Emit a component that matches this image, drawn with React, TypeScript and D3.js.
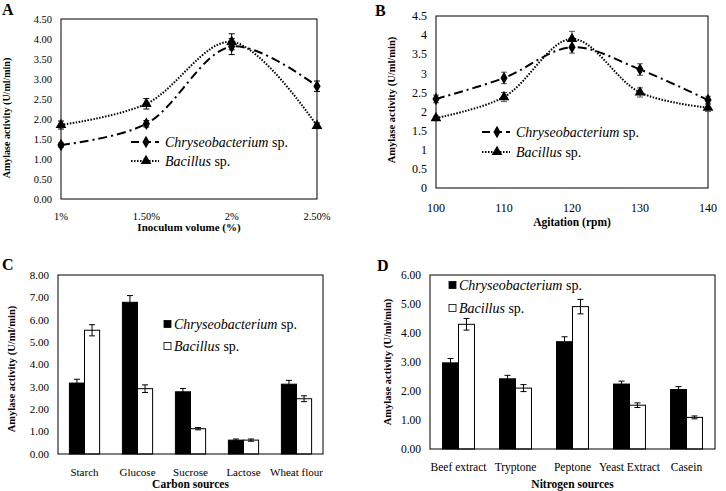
import React from 'react';
import * as d3 from 'd3';

// panel A - inoculum volume
const inoculum = ['1%', '1.50%', '2%', '2.50%'];
const inocChryseo = [1.35, 1.88, 3.81, 2.82];
const inocChryseoErr = [0.05, 0.08, 0.2, 0.13];
const inocBacillus = [1.85, 2.38, 3.93, 1.83];
const inocBacillusErr = [0.1, 0.13, 0.2, 0.07];
const inocTicks = [0, 0.5, 1, 1.5, 2, 2.5, 3, 3.5, 4, 4.5];

// panel B - agitation
const agitation = [100, 110, 120, 130, 140];
const agiChryseo = [2.33, 2.88, 3.68, 3.1, 2.3];
const agiChryseoErr = [0.1, 0.15, 0.15, 0.15, 0.1];
const agiBacillus = [1.83, 2.38, 3.9, 2.5, 2.1];
const agiBacillusErr = [0.05, 0.12, 0.2, 0.12, 0.1];
const agiTicks = [0, 0.5, 1, 1.5, 2, 2.5, 3, 3.5, 4, 4.5];

// panel C - carbon sources
const carbon = ['Starch', 'Glucose', 'Sucrose', 'Lactose', 'Wheat flour'];
const carbChryseo = [3.17, 6.78, 2.78, 0.62, 3.12];
const carbChryseoErr = [0.17, 0.3, 0.15, 0.05, 0.17];
const carbBacillus = [5.53, 2.92, 1.13, 0.62, 2.47];
const carbBacillusErr = [0.25, 0.17, 0.05, 0.05, 0.13];
const carbTicks = [0, 1, 2, 3, 4, 5, 6, 7, 8];

// panel D - nitrogen sources
const nitrogen = ['Beef extract', 'Tryptone', 'Peptone', 'Yeast Extract', 'Casein'];
const nitChryseo = [2.97, 2.42, 3.7, 2.24, 2.05];
const nitChryseoErr = [0.15, 0.12, 0.17, 0.1, 0.1];
const nitBacillus = [4.3, 2.1, 4.91, 1.51, 1.09];
const nitBacillusErr = [0.2, 0.12, 0.25, 0.08, 0.05];
const nitTicks = [0, 1, 2, 3, 4, 5, 6];

const serif = '"Liberation Serif", "Times New Roman", serif';

type Box = { left: number; right: number; top: number; bottom: number };

function YTitle({ x, y, size }: { x: number; y: number; size: number }) {
  return (
    <text transform={`translate(${x},${y}) rotate(-90)`} textAnchor="middle"
      fontWeight="bold" fontSize={size} fontFamily={serif}>
      Amylase activity (U/ml/min)
    </text>
  );
}

function Legend({ x, y, gap, bars }: { x: number; y: number; gap: number; bars?: boolean }) {
  const names = [['Chryseobacterium', 'sp.'], ['Bacillus', 'sp.']];
  return (
    <g fontFamily={serif} fontSize={14}>
      {names.map((n, i) => {
        const yy = y + i * gap;
        let mark;
        if (bars) {
          mark = <rect x={x} y={yy - 3.5} width={7} height={7} fill={i === 0 ? '#000' : '#fff'} stroke="#000" strokeWidth={0.8} />;
        } else {
          const sym = d3.symbol().type(i === 0 ? d3.symbolDiamond : d3.symbolTriangle).size(i === 0 ? 45 : 50)();
          mark = (
            <g>
              <line x1={x} x2={x + 28} y1={yy} y2={yy} stroke="#000" strokeWidth={2}
                strokeDasharray={i === 0 ? '8,4' : '1.5,1.5'} />
              <path d={sym || ''} transform={`translate(${x + 15},${yy})`} fill="#000" />
            </g>
          );
        }
        const tx = bars ? x + 10 : x + 34;
        return (
          <g key={i}>
            {mark}
            <text x={tx} y={yy + 5}>
              <tspan fontStyle="italic">{n[0]}</tspan> {n[1]}
            </text>
          </g>
        );
      })}
    </g>
  );
}

function LinePanel(props: {
  box: Box; cats: (string | number)[]; s1: number[]; e1: number[]; s2: number[]; e2: number[];
  ticks: number[]; fmt: (d: number) => string; tickSize: number; xTitle: string; titleSize: number;
  tickY: number; titleY: number; errColor: string;
}) {
  const { box, cats, s1, e1, s2, e2, ticks, fmt, tickSize } = props;
  const x = d3.scalePoint<string>().domain(cats.map(String)).range([box.left, box.right]).padding(0);
  const y = d3.scaleLinear().domain([0, d3.max(ticks) as number]).range([box.bottom, box.top]);
  const line = d3.line<number>().x((_, i) => x(String(cats[i])) as number).y((d) => y(d))
    .curve(d3.curveCatmullRom.alpha(0.5));
  const diamond = d3.symbol().type(d3.symbolDiamond).size(45)() || '';
  const tri = d3.symbol().type(d3.symbolTriangle).size(50)() || '';
  const errs = (s: number[], e: number[]) => s.map((v, i) => {
    const cx = x(String(cats[i])) as number;
    return (
      <g key={i} stroke={props.errColor} strokeWidth={1}>
        <line x1={cx} x2={cx} y1={y(v - e[i])} y2={y(v + e[i])} />
        <line x1={cx - 3} x2={cx + 3} y1={y(v - e[i])} y2={y(v - e[i])} />
        <line x1={cx - 3} x2={cx + 3} y1={y(v + e[i])} y2={y(v + e[i])} />
      </g>
    );
  });
  return (
    <g fontFamily={serif}>
      <rect x={box.left} y={box.top} width={box.right - box.left} height={box.bottom - box.top}
        fill="none" stroke="#000" strokeWidth={1} />
      {ticks.map((t) => (
        <text key={t} x={box.left - 9} y={y(t) + tickSize * 0.35} textAnchor="end" fontSize={tickSize}>{fmt(t)}</text>
      ))}
      {cats.map((c) => (
        <text key={String(c)} x={x(String(c))} y={props.tickY} textAnchor="middle" fontSize={tickSize}>{c}</text>
      ))}
      <text x={(box.left + box.right) / 2} y={props.titleY} textAnchor="middle" fontWeight="bold"
        fontSize={props.titleSize}>{props.xTitle}</text>
      <path d={line(s2) || ''} fill="none" stroke="#000" strokeWidth={2} strokeDasharray="1.5,1.5" />
      <path d={line(s1) || ''} fill="none" stroke="#000" strokeWidth={2} strokeDasharray="9,4,2,4" />
      {errs(s1, e1)}
      {errs(s2, e2)}
      {s1.map((v, i) => (
        <path key={'d' + i} d={diamond} transform={`translate(${x(String(cats[i]))},${y(v)})`} fill="#000" />
      ))}
      {s2.map((v, i) => (
        <path key={'t' + i} d={tri} transform={`translate(${x(String(cats[i]))},${y(v)})`} fill="#000" />
      ))}
    </g>
  );
}

function BarPanel(props: {
  box: Box; cats: string[]; s1: number[]; e1: number[]; s2: number[]; e2: number[];
  ticks: number[]; pad: number; tickSize: number; xTitle: string; tickY: number; titleY: number;
}) {
  const { box, cats, s1, e1, s2, e2, ticks } = props;
  const x0 = d3.scaleBand().domain(cats).range([box.left, box.right]).paddingInner(props.pad).paddingOuter(props.pad / 2);
  const x1 = d3.scaleBand().domain(['c', 'b']).range([0, x0.bandwidth()]);
  const y = d3.scaleLinear().domain([0, d3.max(ticks) as number]).range([box.bottom, box.top]);
  const series = [
    { key: 'c', vals: s1, errs: e1, fill: '#000' },
    { key: 'b', vals: s2, errs: e2, fill: '#fff' },
  ];
  return (
    <g fontFamily={serif}>
      {series.map((s) => s.vals.map((v, i) => {
        const bx = (x0(cats[i]) as number) + (x1(s.key) as number);
        const cx = bx + x1.bandwidth() / 2;
        const e = s.errs[i];
        return (
          <g key={s.key + i}>
            <rect x={bx} y={y(v)} width={x1.bandwidth()} height={y(0) - y(v)} fill={s.fill} stroke="#000" strokeWidth={1} />
            <g stroke="#000" strokeWidth={1}>
              <line x1={cx} x2={cx} y1={y(v - e)} y2={y(v + e)} />
              <line x1={cx - 3} x2={cx + 3} y1={y(v - e)} y2={y(v - e)} />
              <line x1={cx - 3} x2={cx + 3} y1={y(v + e)} y2={y(v + e)} />
            </g>
          </g>
        );
      }))}
      <rect x={box.left} y={box.top} width={box.right - box.left} height={box.bottom - box.top}
        fill="none" stroke="#000" strokeWidth={1} />
      {ticks.map((t) => (
        <text key={t} x={box.left - 9} y={y(t) + props.tickSize * 0.35} textAnchor="end" fontSize={props.tickSize}>{t.toFixed(2)}</text>
      ))}
      {cats.map((c) => (
        <text key={c} x={(x0(c) as number) + x0.bandwidth() / 2} y={props.tickY} textAnchor="middle" fontSize={props.tickSize}>{c}</text>
      ))}
      <text x={(box.left + box.right) / 2} y={props.titleY} textAnchor="middle" fontWeight="bold" fontSize={11.5}>{props.xTitle}</text>
    </g>
  );
}

export default function App() {
  const boxA = { left: 61, right: 317, top: 19, bottom: 199 };
  const boxB = { left: 436, right: 708, top: 16, bottom: 188 };
  const boxC = { left: 58, right: 323, top: 275, bottom: 454 };
  const boxD = { left: 430, right: 715, top: 275, bottom: 449 };
  return (
    <div style={{ position: 'absolute', left: 0, top: 0 }}>
      <svg width={726} height={491} style={{ display: 'block', background: '#fff' }}>
        <g fontFamily={serif} fontWeight="bold" fontSize={16}>
          <text x={2} y={15}>A</text>
          <text x={375} y={16}>B</text>
          <text x={2} y={270}>C</text>
          <text x={377} y={271}>D</text>
        </g>

        <LinePanel box={boxA} cats={inoculum} s1={inocChryseo} e1={inocChryseoErr} s2={inocBacillus}
          e2={inocBacillusErr} ticks={inocTicks} fmt={(d) => d.toFixed(2)} tickSize={10.5}
          xTitle="Inoculum volume (%)" titleSize={11} tickY={220} titleY={231} errColor="#000" />
        <YTitle x={10} y={118} size={10} />
        <Legend x={131} y={142} gap={19} />

        <LinePanel box={boxB} cats={agitation} s1={agiChryseo} e1={agiChryseoErr} s2={agiBacillus}
          e2={agiBacillusErr} ticks={agiTicks} fmt={(d) => String(d)} tickSize={12}
          xTitle="Agitation (rpm)" titleSize={11.5} tickY={212} titleY={226} errColor="#555" />
        <YTitle x={395} y={100} size={10.5} />
        <Legend x={482} y={132} gap={20} />

        <BarPanel box={boxC} cats={carbon} s1={carbChryseo} e1={carbChryseoErr} s2={carbBacillus}
          e2={carbBacillusErr} ticks={carbTicks} pad={0.43} tickSize={11} xTitle="Carbon sources"
          tickY={476} titleY={488} />
        <YTitle x={15} y={369} size={10.5} />
        <Legend x={164} y={324} gap={22} bars />

        <BarPanel box={boxD} cats={nitrogen} s1={nitChryseo} e1={nitChryseoErr} s2={nitBacillus}
          e2={nitBacillusErr} ticks={nitTicks} pad={0.44} tickSize={11.5} xTitle="Nitrogen sources"
          tickY={471} titleY={488} />
        <YTitle x={391} y={362} size={10.5} />
        <Legend x={449} y={285} gap={23} bars />
      </svg>
    </div>
  );
}
